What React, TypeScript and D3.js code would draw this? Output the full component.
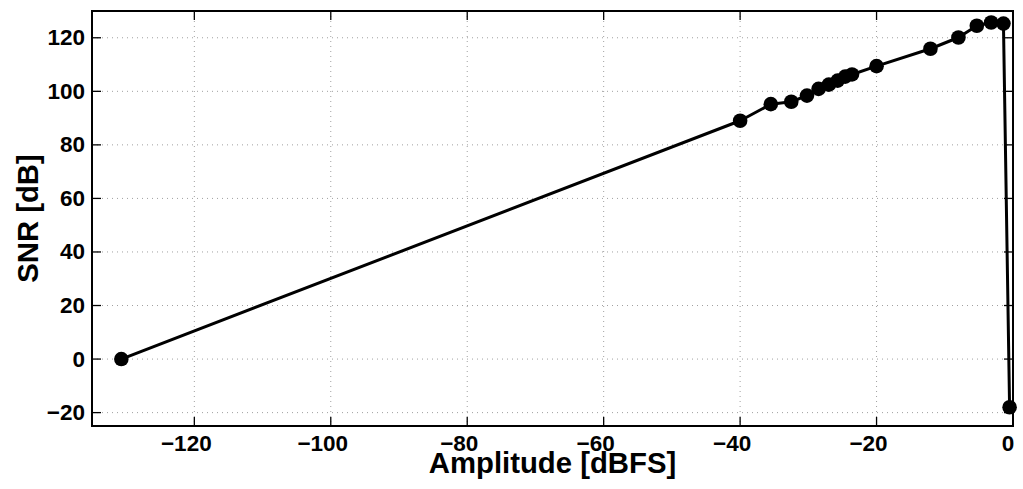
import React from "react";
import * as d3 from "d3";

const amplitudeDbfs = [-130.7, -40.0, -35.5, -32.5, -30.2, -28.5, -27.0, -25.7, -24.6, -23.6, -20.0, -12.1, -8.0, -5.3, -3.2, -1.4, -0.5];
const snrDb = [0.0, 89.0, 95.2, 96.1, 98.4, 100.9, 102.5, 104.0, 105.5, 106.3, 109.4, 115.9, 120.1, 124.5, 125.7, 125.3, -18.0];
const xTicks = [-120, -100, -80, -60, -40, -20, 0];
const yTicks = [-20, 0, 20, 40, 60, 80, 100, 120];
const xLabel = "Amplitude [dBFS]";
const yLabel = "SNR [dB]";

const W = 1023;
const H = 489;
const M = { left: 92, right: 10, top: 11, bottom: 63 };
const FONT = "'Liberation Sans', Arial, Helvetica, sans-serif";

const fmt = (v: number) => (v < 0 ? "\u2212" + Math.abs(v) : String(v));

export default function App() {
  const x = d3.scaleLinear().domain([-135, 0]).range([M.left, W - M.right]);
  const y = d3.scaleLinear().domain([-25, 130]).range([H - M.bottom, M.top]);
  const pts = amplitudeDbfs.map((a, i) => [a, snrDb[i]] as [number, number]);
  const line = d3
    .line<[number, number]>()
    .x((d) => x(d[0]))
    .y((d) => y(d[1]));
  const x0 = M.left;
  const x1 = W - M.right;
  const y0 = M.top;
  const y1 = H - M.bottom;
  const tl = 9;
  return (
    <svg
      width={W}
      height={H}
      style={{ position: "absolute", left: 0, top: 0, background: "#fff" }}
      fontFamily={FONT}
      fontWeight="bold"
    >
      <rect x={0} y={0} width={W} height={H} fill="#fff" />
      {/* grid */}
      <g stroke="#a0a0a0" strokeWidth={1} strokeDasharray="1,4">
        {xTicks.map((t) => (
          <line key={"gx" + t} x1={x(t)} x2={x(t)} y1={y0} y2={y1} />
        ))}
        {yTicks.map((t) => (
          <line key={"gy" + t} x1={x0} x2={x1} y1={y(t)} y2={y(t)} />
        ))}
      </g>
      {/* ticks */}
      <g stroke="#000" strokeWidth={1.3}>
        {xTicks.map((t) => (
          <g key={"tx" + t}>
            <line x1={x(t)} x2={x(t)} y1={y1} y2={y1 - tl} />
            <line x1={x(t)} x2={x(t)} y1={y0} y2={y0 + tl} />
          </g>
        ))}
        {yTicks.map((t) => (
          <g key={"ty" + t}>
            <line x1={x0} x2={x0 + tl} y1={y(t)} y2={y(t)} />
            <line x1={x1} x2={x1 - tl} y1={y(t)} y2={y(t)} />
          </g>
        ))}
      </g>
      {/* data */}
      <path d={line(pts) || ""} fill="none" stroke="#000" strokeWidth={3} strokeLinejoin="round" />
      {pts.map((p, i) => (
        <circle key={i} cx={x(p[0])} cy={y(p[1])} r={7.3} fill="#000" />
      ))}
      {/* box */}
      <rect x={x0} y={y0} width={x1 - x0} height={y1 - y0} fill="none" stroke="#000" strokeWidth={2} />
      {/* tick labels */}
      <g fontSize={22.5} fill="#000">
        {xTicks.map((t) => (
          <text key={"lx" + t} x={x(t) - (t < 0 ? 8 : 5)} y={451} textAnchor="middle">
            {fmt(t)}
          </text>
        ))}
        {yTicks.map((t) => (
          <text key={"ly" + t} x={85} y={y(t) + 7.5} textAnchor="end">
            {fmt(t)}
          </text>
        ))}
      </g>
      <text x={(x0 + x1) / 2} y={473} textAnchor="middle" fontSize={29.3} fill="#000">
        {xLabel}
      </text>
      <text
        transform={`translate(38,${(y0 + y1) / 2}) rotate(-90)`}
        textAnchor="middle"
        fontSize={29.3}
        fill="#000"
      >
        {yLabel}
      </text>
    </svg>
  );
}
